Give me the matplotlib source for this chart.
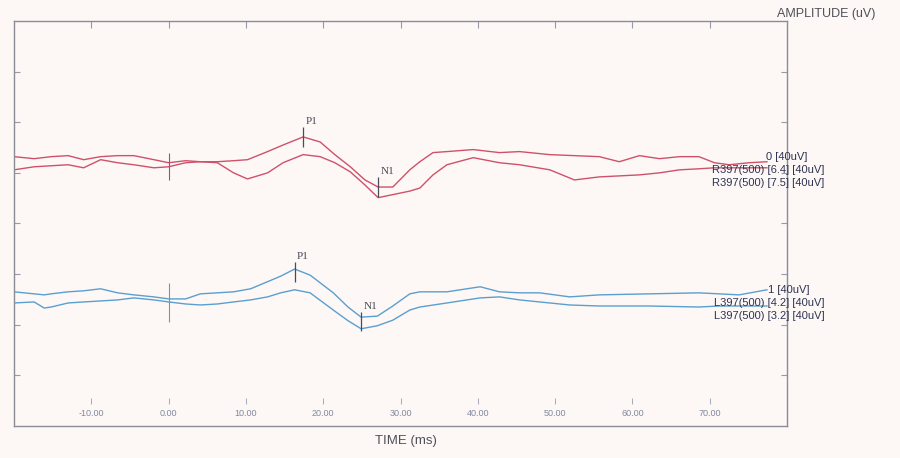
import matplotlib
matplotlib.use("Agg")
import matplotlib.pyplot as plt

# --- data (time in ms, amplitude in display divisions) ---
red_time = [-20.0, -17.4, -15.2, -13.0, -11.0, -8.8, -6.6, -4.5, -1.9, 0.0,
            2.2, 4.1, 6.3, 8.4, 10.2, 12.8, 14.8, 17.4, 19.6, 21.5,
            23.5, 25.4, 27.1, 29.0, 31.2, 32.5, 34.2, 36.0, 39.4, 42.8,
            45.4, 49.3, 52.5, 55.7, 58.3, 60.9, 63.5, 66.1, 68.6, 70.6,
            72.5, 75.1, 77.4]
red_upper = [5.32, 5.28, 5.32, 5.34, 5.26, 5.32, 5.34, 5.34, 5.26, 5.20,
             5.24, 5.22, 5.22, 5.24, 5.26, 5.42, 5.55, 5.71, 5.61, 5.36,
             5.12, 4.86, 4.72, 4.72, 5.06, 5.22, 5.40, 5.42, 5.46, 5.40,
             5.42, 5.36, 5.34, 5.32, 5.22, 5.34, 5.28, 5.32, 5.32, 5.20,
             5.16, 5.20, 5.22]
red_lower = [5.06, 5.12, 5.14, 5.16, 5.10, 5.26, 5.20, 5.16, 5.10, 5.12,
             5.20, 5.22, 5.20, 5.00, 4.88, 5.00, 5.20, 5.36, 5.32, 5.20,
             5.02, 4.76, 4.51, 4.57, 4.64, 4.70, 4.96, 5.16, 5.30, 5.20,
             5.16, 5.06, 4.86, 4.92, 4.94, 4.96, 5.00, 5.06, 5.08, 5.10,
             5.10, 5.10, 5.10]

blue_time = [-20.0, -17.4, -16.1, -15.2, -13.0, -11.0, -8.8, -6.6, -4.5, -1.9,
             0.0, 2.2, 4.1, 6.3, 8.4, 10.6, 12.8, 14.5, 16.3, 18.3,
             21.3, 23.2, 24.9, 27.0, 29.0, 31.2, 32.5, 36.0, 40.3, 42.8,
             45.4, 48.0, 51.9, 55.7, 62.2, 68.6, 71.2, 73.8, 77.4]
blue_upper = [2.65, 2.61, 2.59, 2.61, 2.65, 2.67, 2.71, 2.63, 2.59, 2.55,
              2.51, 2.51, 2.61, 2.63, 2.65, 2.71, 2.85, 2.96, 3.10, 2.98,
              2.63, 2.35, 2.15, 2.17, 2.37, 2.61, 2.65, 2.65, 2.75, 2.65,
              2.63, 2.63, 2.55, 2.59, 2.61, 2.63, 2.61, 2.59, 2.69]
blue_lower = [2.43, 2.45, 2.33, 2.35, 2.43, 2.45, 2.47, 2.49, 2.53, 2.49,
              2.45, 2.41, 2.39, 2.41, 2.45, 2.49, 2.55, 2.63, 2.69, 2.63,
              2.29, 2.08, 1.92, 1.98, 2.09, 2.29, 2.35, 2.43, 2.53, 2.55,
              2.49, 2.45, 2.39, 2.37, 2.37, 2.35, 2.37, 2.37, 2.37]

# peak latencies (ms) and the trace level they are marked on
red_peaks = {"P1": (17.4, 5.71), "N1": (27.1, 4.72)}
blue_peaks = {"P1": (16.3, 3.04), "N1": (24.9, 2.06)}

red_labels = ["0 [40uV]", "R397(500) [6.4] [40uV]", "R397(500) [7.5] [40uV]"]
blue_labels = ["1 [40uV]", "L397(500) [4.2] [40uV]", "L397(500) [3.2] [40uV]"]

x_ticks = [-10, 0, 10, 20, 30, 40, 50, 60, 70]
x_tick_labels = ["-10.00", "0.00", "10.00", "20.00", "30.00",
                 "40.00", "50.00", "60.00", "70.00"]
y_ticks = [1, 2, 3, 4, 5, 6, 7]

RED = "#cf5169"
BLUE = "#5a9fd0"
INK = "#2e3452"
BG = "#fdf8f6"

fig = plt.figure(figsize=(9, 4.58), dpi=100, facecolor=BG)
ax = fig.add_axes([0.0156, 0.0699, 0.8589, 0.8843])
ax.set_facecolor(BG)

ax.plot(red_time, red_upper, color=RED, lw=1.0)
ax.plot(red_time, red_lower, color=RED, lw=1.0)
ax.plot(blue_time, blue_upper, color=BLUE, lw=1.0)
ax.plot(blue_time, blue_lower, color=BLUE, lw=1.0)

# stimulus markers at t = 0
ax.vlines(0, 4.86, 5.40, color="#6a6a78", lw=0.8)
ax.vlines(0, 2.06, 2.83, color="#8a8f9a", lw=0.8)

# peak markers
for peaks in (red_peaks, blue_peaks):
    for name, (t, y) in peaks.items():
        ax.vlines(t, y - 0.19, y + 0.19, color="#4a4a58", lw=0.9)
        ax.text(t + 0.3, y + 0.22, name, fontsize=8, family="Liberation Serif",
                color="#4a4a58", ha="left", va="bottom")


def trace_label(x, y, text, ha):
    ax.text(x, y, text, fontsize=8, family="Liberation Sans", color=INK,
            ha=ha, va="center", clip_on=False)


# trace labels at right edge (stacked tightly, as printed)
trace_label(77.3, 5.31, red_labels[0], "left")
trace_label(84.8, 5.05, red_labels[1], "right")
trace_label(84.8, 4.79, red_labels[2], "right")
trace_label(77.5, 2.69, blue_labels[0], "left")
trace_label(84.8, 2.43, blue_labels[1], "right")
trace_label(84.8, 2.17, blue_labels[2], "right")

ax.set_xlim(-20, 80)
ax.set_ylim(0, 8)

# axis styling: inward ticks, labels drawn inside the frame
ax.set_xticks(x_ticks)
ax.set_yticks(y_ticks)
ax.tick_params(axis="x", which="both", bottom=False, top=True, direction="in",
               length=5, color="#9a9aa6", labelbottom=False)
ax.tick_params(axis="y", which="both", left=True, right=True, direction="in",
               length=4, color="#9a9aa6", labelleft=False)
for s in ax.spines.values():
    s.set_color("#8c8c96")
    s.set_linewidth(1.0)

xtrans = ax.get_xaxis_transform()
ax.vlines(x_ticks, 0.055, 0.07, transform=xtrans, color="#a8a8b4", lw=0.7)
for t, lab in zip(x_ticks, x_tick_labels):
    ax.text(t, 0.032, lab, transform=xtrans, fontsize=6.5, color="#8088a0",
            family="Liberation Sans", ha="center", va="center")

fig.text(406 / 900, 1 - 441 / 458, "TIME (ms)", fontsize=9.5,
         family="Liberation Sans", color="#50505a", ha="center", va="center")
fig.text(826 / 900, 1 - 14 / 458, "AMPLITUDE (uV)", fontsize=9,
         family="Liberation Sans", color="#50505a", ha="center", va="center")

fig.savefig("out.png", dpi=100, facecolor=BG)
